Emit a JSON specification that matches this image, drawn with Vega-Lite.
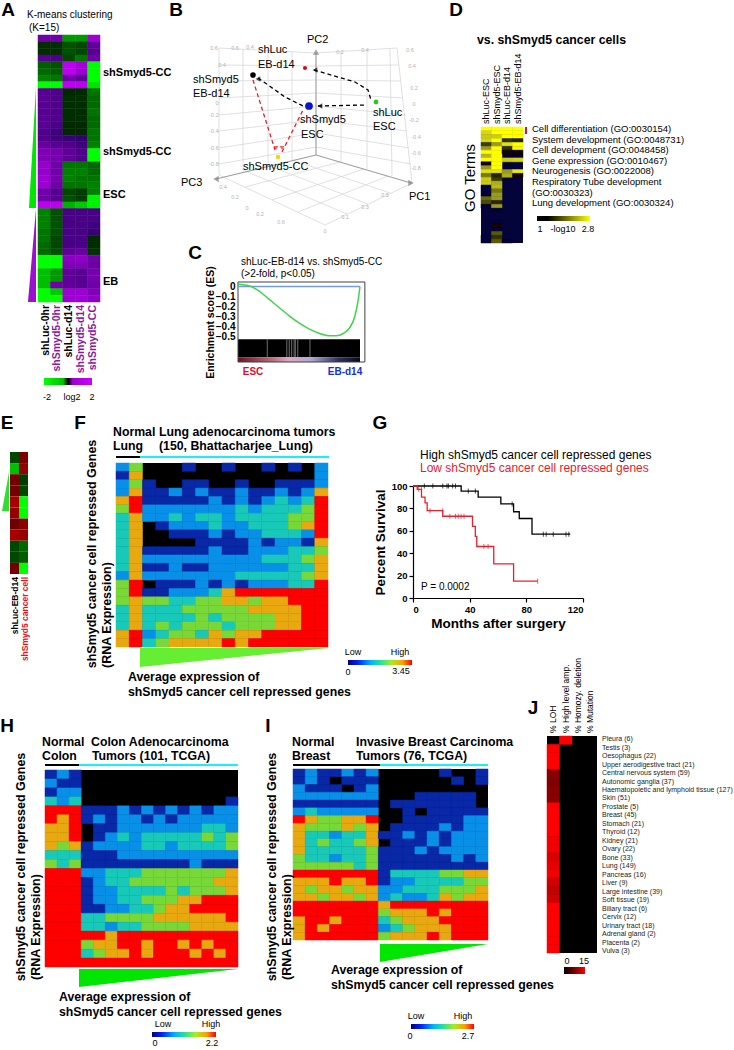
{"$schema":"https://vega.github.io/schema/vega-lite/v6.json","width":734,"height":1050,"padding":0,"autosize":{"type":"none"},"background":"white",
"config":{"font":"Liberation Sans","view":{"stroke":null}},
"resolve":{"scale":{"x":"independent","y":"independent","color":"independent","stroke":"independent"},"axis":{"x":"independent","y":"independent"}},
"encoding":{"x":{"field":"x","type":"quantitative","axis":null,"scale":{"domain":[0,734]}},"y":{"field":"y","type":"quantitative","axis":null,"scale":{"domain":[1050,0]}}},
"layer":[
{"data":{"values":[{"x":219,"y":48,"x2":316,"y2":53},{"x":219,"y":65,"x2":316,"y2":66},{"x":219,"y":81,"x2":316,"y2":80},{"x":219,"y":98,"x2":316,"y2":93},{"x":219,"y":115,"x2":316,"y2":106},{"x":219,"y":131,"x2":316,"y2":120},{"x":219,"y":148,"x2":316,"y2":133},{"x":219,"y":164,"x2":316,"y2":147},{"x":219,"y":48,"x2":219,"y2":175},{"x":243,"y":49,"x2":243,"y2":170},{"x":268,"y":50,"x2":268,"y2":165},{"x":292,"y":52,"x2":292,"y2":160},{"x":316,"y":53,"x2":397,"y2":48},{"x":316,"y":66,"x2":399,"y2":65},{"x":316,"y":80,"x2":401,"y2":81},{"x":316,"y":93,"x2":403,"y2":98},{"x":316,"y":106,"x2":405,"y2":115},{"x":316,"y":120,"x2":407,"y2":131},{"x":316,"y":133,"x2":409,"y2":148},{"x":316,"y":147,"x2":411,"y2":164},{"x":341,"y":51,"x2":341,"y2":162},{"x":367,"y":50,"x2":367,"y2":169},{"x":390,"y":49,"x2":392,"y2":176},{"x":397,"y":48,"x2":412,"y2":183},{"x":243,"y":170,"x2":347,"y2":214},{"x":267,"y":165,"x2":368,"y2":204},{"x":292,"y":160,"x2":390,"y2":193},{"x":245,"y":187,"x2":340,"y2":162},{"x":272,"y":200,"x2":364,"y2":169},{"x":298,"y":212,"x2":388,"y2":176},{"x":219,"y":175,"x2":325,"y2":225},{"x":325,"y":225,"x2":412,"y2":183}]},"mark":{"type":"rule","color":"#d8d8d8","strokeWidth":0.8},"encoding":{"x2":{"field":"x2"},"y2":{"field":"y2"}}},
{"data":{"values":[{"x":316,"y":155,"x2":216,"y2":179},{"x":316,"y":155,"x2":411,"y2":183},{"x":316,"y":155,"x2":316,"y2":53}]},"mark":{"type":"rule","color":"#a0a0a0","strokeWidth":1.2},"encoding":{"x2":{"field":"x2"},"y2":{"field":"y2"}}},
{"data":{"values":[{"x":216,"y":179,"s":"l"},{"x":411,"y":183,"s":"r"},{"x":316,"y":52,"s":"u"}]},"mark":{"type":"point","filled":true,"color":"#808080","size":40},"encoding":{"shape":{"field":"s","legend":null,"scale":{"domain":["l","r","u"],"range":["triangle-left","triangle-right","triangle-up"]}}}},
{"data":{"values":[{"x":214,"y":48,"t":"0.6"},{"x":222,"y":65,"t":"0.4"},{"x":217,"y":103,"t":"0"},{"x":214,"y":115,"t":"-0.2"},{"x":214,"y":131,"t":"-0.4"},{"x":214,"y":148,"t":"-0.6"},{"x":214,"y":164,"t":"-0.8"},{"x":410,"y":50,"t":"0.6"},{"x":412,"y":66,"t":"0.4"},{"x":414,"y":88,"t":"0.2"},{"x":414,"y":104,"t":"0"},{"x":414,"y":120,"t":"-0.2"},{"x":416,"y":137,"t":"-0.4"},{"x":416,"y":153,"t":"-0.6"},{"x":416,"y":168,"t":"-0.8"},{"x":235,"y":48,"t":"0.6"},{"x":250,"y":47,"t":"0.4"},{"x":340,"y":52,"t":"0.2"},{"x":365,"y":50,"t":"0.4"},{"x":223,"y":187,"t":"0.4"},{"x":235,"y":197,"t":"0.2"},{"x":247,"y":208,"t":"0"},{"x":260,"y":214,"t":"0.2"},{"x":281,"y":222,"t":"0.6"},{"x":325,"y":231,"t":"0"},{"x":345,"y":217,"t":"0.1"},{"x":365,"y":207,"t":"0.3"},{"x":385,"y":195,"t":"0.5"}]},"mark":{"type":"text","fontSize":5.5,"color":"#b4b4b4","align":"center","baseline":"middle"},"encoding":{"text":{"field":"t"}}},
{"data":{"values":[{"s":"a","x":366,"y":105},{"s":"a","x":318,"y":106},{"s":"b","x":371,"y":100},{"s":"b","x":368,"y":90},{"s":"b","x":355,"y":82},{"s":"b","x":314,"y":70},{"s":"c","x":303,"y":106},{"s":"c","x":285,"y":97},{"s":"c","x":258,"y":78}]},"mark":{"type":"line","color":"black","strokeWidth":1.3,"strokeDash":[4,3]},"encoding":{"detail":{"field":"s"}}},
{"data":{"values":[{"s":"a","x":253,"y":80},{"s":"a","x":275,"y":150},{"s":"b","x":303,"y":110},{"s":"b","x":282,"y":152}]},"mark":{"type":"line","color":"#e8202c","strokeWidth":1.3,"strokeDash":[4,3]},"encoding":{"detail":{"field":"s"}}},
{"data":{"values":[{"x":320,"y":106},{"x":315,"y":70},{"x":258,"y":79}]},"mark":{"type":"point","filled":true,"color":"black","size":28,"shape":"triangle-left"}},
{"data":{"values":[{"x":276,"y":148},{"x":282,"y":148}]},"mark":{"type":"point","filled":true,"color":"#e8202c","size":24,"shape":"triangle-down"}},
{"data":{"values":[{"x":253,"y":75,"n":"shSmyd5 EB-d14","a":32},{"x":305,"y":68,"n":"shLuc EB-d14","a":18},{"x":309,"y":106,"n":"shSmyd5 ESC","a":60},{"x":376,"y":102,"n":"shLuc ESC","a":24},{"x":278,"y":157,"n":"shSmyd5-CC","a":22}]},"mark":{"type":"point","filled":true,"opacity":1},"encoding":{"color":{"field":"n","legend":null,"scale":{"domain":["shSmyd5 EB-d14","shLuc EB-d14","shSmyd5 ESC","shLuc ESC","shSmyd5-CC"],"range":["#000000","#c81414","#0a14d2","#28c81e","#e6dc0a"]}},"size":{"field":"a","type":"quantitative","legend":null,"scale":{"domain":[0,60],"range":[0,60]}}}},
{"data":{"values":[{"x":116,"x2":328,"y":463,"y2":647},{"x":45,"x2":238,"y":770,"y2":967},{"x":293,"x2":488,"y":769,"y2":940},{"x":547,"x2":597,"y":736,"y2":953},{"x":116,"x2":140,"y":456,"y2":458},{"x":45,"x2":79,"y":764,"y2":766},{"x":293,"x2":380,"y":764,"y2":766}]},"mark":{"type":"rect","color":"black"},"encoding":{"x2":{"field":"x2"},"y2":{"field":"y2"}}},
{"data":{"values":[{"x":481,"x2":523,"y":127,"y2":243}]},"mark":{"type":"rect","color":"#04043a"},"encoding":{"x2":{"field":"x2"},"y2":{"field":"y2"}}},
{"data":{"values":[{"x":140,"x2":329,"y":456,"y2":458},{"x":79,"x2":238,"y":764,"y2":766},{"x":380,"x2":488,"y":764,"y2":766}]},"mark":{"type":"rect","color":"#19f0f0"},"encoding":{"x2":{"field":"x2"},"y2":{"field":"y2"}}},
{"data":{"values":[{"x":525,"x2":527,"y":127,"y2":134}]},"mark":{"type":"rect","color":"#e8101c"},"encoding":{"x2":{"field":"x2"},"y2":{"field":"y2"}}},
{"data":{"values":[{"y":87,"x":36,"x2":36},{"y":208,"x":29,"x2":36}]},"mark":{"type":"area","orient":"horizontal","color":"#00e600"},"encoding":{"x2":{"field":"x2"}}},
{"data":{"values":[{"y":209,"x":36,"x2":36},{"y":302,"x":28,"x2":36}]},"mark":{"type":"area","orient":"horizontal","color":"#9a10d0"},"encoding":{"x2":{"field":"x2"}}},
{"data":{"values":[{"y":472,"x":9,"x2":9},{"y":511,"x":2,"x2":9}]},"mark":{"type":"area","orient":"horizontal","color":"#30e030"},"encoding":{"x2":{"field":"x2"}}},
{"data":{"values":[{"x":140,"y":648,"y2":667},{"x":329,"y":648,"y2":648}]},"mark":{"type":"area","color":"#66ee33"},"encoding":{"y2":{"field":"y2"}}},
{"data":{"values":[{"g":"h","x":79,"y":969,"y2":987},{"g":"h","x":238,"y":969,"y2":969},{"g":"i","x":380,"y":944,"y2":962},{"g":"i","x":488,"y":944,"y2":944}]},"mark":{"type":"area","color":"#00e600"},"encoding":{"y2":{"field":"y2"},"detail":{"field":"g"}}},
{"data":{"values":[{"x":348,"x2":412,"y":660,"y2":665},{"x":152,"x2":216,"y":1032,"y2":1037},{"x":411,"x2":474,"y":1024,"y2":1029}]},"mark":{"type":"rect","color":{"x1":0,"x2":1,"y1":0,"y2":0,"gradient":"linear","stops":[{"offset":0,"color":"#000080"},{"offset":0.15,"color":"#0020ff"},{"offset":0.35,"color":"#00b0ff"},{"offset":0.5,"color":"#20e0a0"},{"offset":0.68,"color":"#a0f020"},{"offset":0.85,"color":"#ffa000"},{"offset":1,"color":"#ff0000"}]}},"encoding":{"x2":{"field":"x2"},"y2":{"field":"y2"}}},
{"data":{"values":[{"x":44,"x2":92,"y":378,"y2":385}]},"mark":{"type":"rect","color":{"x1":0,"x2":1,"y1":0,"y2":0,"gradient":"linear","stops":[{"offset":0,"color":"#00ff00"},{"offset":0.4,"color":"#00c000"},{"offset":0.5,"color":"#000000"},{"offset":0.6,"color":"#a000d0"},{"offset":1,"color":"#cc00ff"}]}},"encoding":{"x2":{"field":"x2"},"y2":{"field":"y2"}}},
{"data":{"values":[{"x":537,"x2":590,"y":216,"y2":221}]},"mark":{"type":"rect","color":{"x1":0,"x2":1,"y1":0,"y2":0,"gradient":"linear","stops":[{"offset":0,"color":"#000000"},{"offset":0.2,"color":"#000000"},{"offset":1,"color":"#ffff00"}]}},"encoding":{"x2":{"field":"x2"},"y2":{"field":"y2"}}},
{"data":{"values":[{"x":564,"x2":585,"y":967,"y2":974}]},"mark":{"type":"rect","color":{"x1":0,"x2":1,"y1":0,"y2":0,"gradient":"linear","stops":[{"offset":0,"color":"#000000"},{"offset":1,"color":"#ff0000"}]}},"encoding":{"x2":{"field":"x2"},"y2":{"field":"y2"}}},
{"data":{"values":[
{"x":0,"y":0,"v":0.8},{"x":1,"y":0,"v":0.8},{"x":2,"y":0,"v":-1.2},{"x":3,"y":0,"v":-1.2},{"x":4,"y":0,"v":1.4},
{"x":0,"y":1,"v":-0.2},{"x":1,"y":1,"v":-0.2},{"x":2,"y":1,"v":-0.6},{"x":3,"y":1,"v":-0.5},{"x":4,"y":1,"v":0.6},
{"x":0,"y":2,"v":-0.2},{"x":1,"y":2,"v":-0.2},{"x":2,"y":2,"v":-0.6},{"x":3,"y":2,"v":-0.5},{"x":4,"y":2,"v":0.5},
{"x":0,"y":3,"v":0.5},{"x":1,"y":3,"v":0.4},{"x":2,"y":3,"v":-0.5},{"x":3,"y":3,"v":-0.9},{"x":4,"y":3,"v":0.8},
{"x":0,"y":4,"v":-0.7},{"x":1,"y":4,"v":-0.6},{"x":2,"y":4,"v":1.8},{"x":3,"y":4,"v":1.5},{"x":4,"y":4,"v":-2},
{"x":0,"y":5,"v":-0.8},{"x":1,"y":5,"v":-0.7},{"x":2,"y":5,"v":1.8},{"x":3,"y":5,"v":1.4},{"x":4,"y":5,"v":-2},
{"x":0,"y":6,"v":-1},{"x":1,"y":6,"v":-0.9},{"x":2,"y":6,"v":0.8},{"x":3,"y":6,"v":0.6},{"x":4,"y":6,"v":-2},
{"x":0,"y":7,"v":-2},{"x":1,"y":7,"v":-2},{"x":2,"y":7,"v":1.8},{"x":3,"y":7,"v":1.8},{"x":4,"y":7,"v":-1.8},
{"x":0,"y":8,"v":0.5},{"x":1,"y":8,"v":0.4},{"x":2,"y":8,"v":-0.1},{"x":3,"y":8,"v":-0.1},{"x":4,"y":8,"v":-0.9},
{"x":0,"y":9,"v":0.5},{"x":1,"y":9,"v":0.4},{"x":2,"y":9,"v":-0.2},{"x":3,"y":9,"v":-0.2},{"x":4,"y":9,"v":-0.8},
{"x":0,"y":10,"v":0.5},{"x":1,"y":10,"v":0.4},{"x":2,"y":10,"v":-0.2},{"x":3,"y":10,"v":-0.2},{"x":4,"y":10,"v":-0.8},
{"x":0,"y":11,"v":0.5},{"x":1,"y":11,"v":0.4},{"x":2,"y":11,"v":-0.2},{"x":3,"y":11,"v":-0.2},{"x":4,"y":11,"v":-0.9},
{"x":0,"y":12,"v":0.5},{"x":1,"y":12,"v":0.4},{"x":2,"y":12,"v":-0.2},{"x":3,"y":12,"v":-0.2},{"x":4,"y":12,"v":-0.8},
{"x":0,"y":13,"v":0.5},{"x":1,"y":13,"v":0.3},{"x":2,"y":13,"v":-0.1},{"x":3,"y":13,"v":-0.1},{"x":4,"y":13,"v":-0.8},
{"x":0,"y":14,"v":0.4},{"x":1,"y":14,"v":0.2},{"x":2,"y":14,"v":-0.1},{"x":3,"y":14,"v":-0.1},{"x":4,"y":14,"v":-0.9},
{"x":0,"y":15,"v":0.4},{"x":1,"y":15,"v":0.2},{"x":2,"y":15,"v":0.1},{"x":3,"y":15,"v":0},{"x":4,"y":15,"v":-0.9},
{"x":0,"y":16,"v":0.7},{"x":1,"y":16,"v":0.5},{"x":2,"y":16,"v":0.4},{"x":3,"y":16,"v":0.2},{"x":4,"y":16,"v":-1},
{"x":0,"y":17,"v":1},{"x":1,"y":17,"v":0.9},{"x":2,"y":17,"v":0.6},{"x":3,"y":17,"v":0.4},{"x":4,"y":17,"v":-2},
{"x":0,"y":18,"v":1},{"x":1,"y":18,"v":0.9},{"x":2,"y":18,"v":0.6},{"x":3,"y":18,"v":0.4},{"x":4,"y":18,"v":-2},
{"x":0,"y":19,"v":1.3},{"x":1,"y":19,"v":0.8},{"x":2,"y":19,"v":-0.9},{"x":3,"y":19,"v":-0.9},{"x":4,"y":19,"v":-0.8},
{"x":0,"y":20,"v":1.3},{"x":1,"y":20,"v":0.8},{"x":2,"y":20,"v":-1},{"x":3,"y":20,"v":-1},{"x":4,"y":20,"v":-0.8},
{"x":0,"y":21,"v":1.4},{"x":1,"y":21,"v":0.9},{"x":2,"y":21,"v":-1},{"x":3,"y":21,"v":-0.9},{"x":4,"y":21,"v":-0.9},
{"x":0,"y":22,"v":1.4},{"x":1,"y":22,"v":0.8},{"x":2,"y":22,"v":-0.9},{"x":3,"y":22,"v":-0.9},{"x":4,"y":22,"v":-1},
{"x":0,"y":23,"v":0.8},{"x":1,"y":23,"v":0.5},{"x":2,"y":23,"v":-0.5},{"x":3,"y":23,"v":-0.4},{"x":4,"y":23,"v":-1},
{"x":0,"y":24,"v":0.8},{"x":1,"y":24,"v":0.5},{"x":2,"y":24,"v":-0.6},{"x":3,"y":24,"v":-0.4},{"x":4,"y":24,"v":-1.9},
{"x":0,"y":25,"v":1.8},{"x":1,"y":25,"v":1.8},{"x":2,"y":25,"v":-1.4},{"x":3,"y":25,"v":-1.6},{"x":4,"y":25,"v":-1.9},
{"x":0,"y":26,"v":-1},{"x":1,"y":26,"v":-0.6},{"x":2,"y":26,"v":0.3},{"x":3,"y":26,"v":0.3},{"x":4,"y":26,"v":0.3},
{"x":0,"y":27,"v":-1},{"x":1,"y":27,"v":-0.6},{"x":2,"y":27,"v":0.3},{"x":3,"y":27,"v":0.3},{"x":4,"y":27,"v":0.3},
{"x":0,"y":28,"v":-1},{"x":1,"y":28,"v":-0.6},{"x":2,"y":28,"v":0.3},{"x":3,"y":28,"v":0.3},{"x":4,"y":28,"v":0.2},
{"x":0,"y":29,"v":-0.9},{"x":1,"y":29,"v":-0.6},{"x":2,"y":29,"v":0.3},{"x":3,"y":29,"v":0.3},{"x":4,"y":29,"v":0.1},
{"x":0,"y":30,"v":-0.9},{"x":1,"y":30,"v":-0.5},{"x":2,"y":30,"v":0.3},{"x":3,"y":30,"v":0.3},{"x":4,"y":30,"v":-0.1},
{"x":0,"y":31,"v":-0.8},{"x":1,"y":31,"v":-0.5},{"x":2,"y":31,"v":0.3},{"x":3,"y":31,"v":0.3},{"x":4,"y":31,"v":-0.2},
{"x":0,"y":32,"v":-0.8},{"x":1,"y":32,"v":-0.6},{"x":2,"y":32,"v":0.6},{"x":3,"y":32,"v":0.7},{"x":4,"y":32,"v":-0.3},
{"x":0,"y":33,"v":-2},{"x":1,"y":33,"v":-2},{"x":2,"y":33,"v":1.2},{"x":3,"y":33,"v":1.2},{"x":4,"y":33,"v":0.8},
{"x":0,"y":34,"v":-2},{"x":1,"y":34,"v":-2},{"x":2,"y":34,"v":1},{"x":3,"y":34,"v":1},{"x":4,"y":34,"v":0.7},
{"x":0,"y":35,"v":-1.5},{"x":1,"y":35,"v":-1.2},{"x":2,"y":35,"v":0.6},{"x":3,"y":35,"v":0.5},{"x":4,"y":35,"v":0.9},
{"x":0,"y":36,"v":-1.5},{"x":1,"y":36,"v":-1.2},{"x":2,"y":36,"v":0.6},{"x":3,"y":36,"v":0.5},{"x":4,"y":36,"v":0.9},
{"x":0,"y":37,"v":-1.5},{"x":1,"y":37,"v":0.8},{"x":2,"y":37,"v":0.6},{"x":3,"y":37,"v":0.5},{"x":4,"y":37,"v":0.8},
{"x":0,"y":38,"v":-2},{"x":1,"y":38,"v":-1.6},{"x":2,"y":38,"v":1.4},{"x":3,"y":38,"v":1.4},{"x":4,"y":38,"v":1},
{"x":0,"y":39,"v":-2},{"x":1,"y":39,"v":-2},{"x":2,"y":39,"v":1.4},{"x":3,"y":39,"v":1.4},{"x":4,"y":39,"v":1.2}
]},"mark":{"type":"rect","strokeWidth":0.5},"encoding":{"x":{"field":"x","type":"ordinal","axis":null,"scale":{"range":[38,100]}},"y":{"field":"y","type":"ordinal","axis":null,"scale":{"range":[35,302]}},"color":{"field":"v","type":"quantitative","legend":null,"scale":{"domain":[-2,0,2],"range":["#00ff00","#000000","#cc00ff"]}},"stroke":{"field":"v","type":"quantitative","legend":null,"scale":{"domain":[-2,0,2],"range":["#00ff00","#000000","#cc00ff"]}}}},
{"data":{"values":[
{"x":0,"y":0,"v":3},{"x":1,"y":0,"v":3},{"x":2,"y":0,"v":3},{"x":3,"y":0,"v":3},
{"x":0,"y":1,"v":2.6},{"x":1,"y":1,"v":3},{"x":2,"y":1,"v":3},{"x":3,"y":1,"v":3},
{"x":0,"y":2,"v":2.5},{"x":1,"y":2,"v":2.5},{"x":2,"y":2,"v":3},{"x":3,"y":2,"v":3},
{"x":0,"y":3,"v":2.6},{"x":1,"y":3,"v":3},{"x":2,"y":3,"v":1.3},{"x":3,"y":3,"v":1.2},
{"x":0,"y":4,"v":1.4},{"x":1,"y":4,"v":2},{"x":2,"y":4,"v":2.7},{"x":3,"y":4,"v":3},
{"x":0,"y":5,"v":2},{"x":1,"y":5,"v":3},{"x":2,"y":5,"v":1.3},{"x":3,"y":5,"v":2.9},
{"x":0,"y":6,"v":3},{"x":1,"y":6,"v":3},{"x":2,"y":6,"v":1},{"x":3,"y":6,"v":1},
{"x":0,"y":7,"v":2.3},{"x":1,"y":7,"v":3},{"x":3,"y":7,"v":0.8},
{"x":0,"y":8,"v":3},{"x":1,"y":8,"v":3},{"x":2,"y":8,"v":2.5},{"x":3,"y":8,"v":2.6},
{"x":0,"y":9,"v":1},{"x":1,"y":9,"v":3},
{"x":0,"y":10,"v":2},{"x":1,"y":10,"v":3},
{"x":0,"y":11,"v":2.7},{"x":1,"y":11,"v":2.7},{"x":2,"y":11,"v":2},{"x":3,"y":11,"v":2.8},
{"x":0,"y":12,"v":1.8},{"x":1,"y":12,"v":1.2},{"x":2,"y":12,"v":2.2},{"x":3,"y":12,"v":1},
{"x":0,"y":13,"v":2.5},{"x":1,"y":13,"v":1.4},
{"x":0,"y":14,"v":2.5},{"x":1,"y":14,"v":2.2},
{"x":0,"y":15,"v":0.6},{"x":1,"y":15,"v":2.3},
{"x":0,"y":16,"v":0.2},{"x":1,"y":16,"v":1.8},
{"x":0,"y":17,"v":0.3},{"x":1,"y":17,"v":2},
{"x":0,"y":18,"v":1.7},{"x":1,"y":18,"v":2},
{"x":0,"y":19,"v":1.5},{"x":1,"y":19,"v":1.2},
{"x":0,"y":20,"v":0.5},{"x":1,"y":20,"v":2},
{"x":1,"y":21,"v":0.3},{"x":1,"y":24,"v":0.2},{"x":1,"y":25,"v":1},{"x":1,"y":26,"v":0.3},{"x":1,"y":27,"v":1.6},
{"x":0,"y":28,"v":0.4},{"x":1,"y":28,"v":1.3},
{"x":0,"y":29,"v":0.5},{"x":1,"y":29,"v":1.6},{"x":2,"y":29,"v":0.3}
]},"mark":{"type":"rect","strokeWidth":0.5},"encoding":{"x":{"field":"x","type":"ordinal","axis":null,"scale":{"domain":[0,1,2,3],"range":[481,523]}},"y":{"field":"y","type":"ordinal","axis":null,"scale":{"domain":[0,1,2,3,4,5,6,7,8,9,10,11,12,13,14,15,16,17,18,19,20,21,22,23,24,25,26,27,28,29],"range":[127,243]}},"color":{"field":"v","type":"quantitative","legend":null,"scale":{"domain":[0,1,2,3],"range":["#04043a","#000000","#9a9a20","#ffff00"]}},"stroke":{"field":"v","type":"quantitative","legend":null,"scale":{"domain":[0,1,2,3],"range":["#04043a","#000000","#9a9a20","#ffff00"]}}}},
{"data":{"values":[
{"x":0,"y":0,"v":-0.5},{"x":1,"y":0,"v":0.5},{"x":0,"y":1,"v":-1.5},{"x":1,"y":1,"v":0.8},{"x":0,"y":2,"v":0.4},{"x":1,"y":2,"v":-0.4},{"x":0,"y":3,"v":0.4},{"x":1,"y":3,"v":-0.5},{"x":0,"y":4,"v":1},{"x":1,"y":4,"v":-2},{"x":0,"y":5,"v":0.8},{"x":1,"y":5,"v":-2},{"x":0,"y":6,"v":0.3},{"x":1,"y":6,"v":0.7},{"x":0,"y":7,"v":1},{"x":1,"y":7,"v":0.8},{"x":0,"y":8,"v":-0.5},{"x":1,"y":8,"v":-0.8},{"x":0,"y":9,"v":-0.5},{"x":1,"y":9,"v":-0.7},{"x":0,"y":10,"v":0.4},{"x":1,"y":10,"v":-2}
]},"mark":"rect","encoding":{"x":{"field":"x","type":"ordinal","axis":null,"scale":{"range":[10,28]}},"y":{"field":"y","type":"ordinal","axis":null,"scale":{"range":[452,574]}},"color":{"field":"v","type":"quantitative","legend":null,"scale":{"domain":[-2,0,2],"range":["#00ff00","#000000","#ff0000"]}}}},
{"data":{"values":[
{"x":0,"y":0,"v":2},{"x":1,"y":0,"v":4},{"x":5,"y":0,"v":1},{"x":8,"y":0,"v":1},{"x":11,"y":0,"v":1},{"x":13,"y":0,"v":1},{"x":15,"y":0,"v":2},
{"x":0,"y":1,"v":1},{"x":1,"y":1,"v":5},{"x":15,"y":1,"v":2},
{"x":0,"y":2,"v":2},{"x":1,"y":2,"v":4},{"x":2,"y":2,"v":1},{"x":5,"y":2,"v":1},{"x":6,"y":2,"v":1},{"x":9,"y":2,"v":1},{"x":12,"y":2,"v":1},{"x":13,"y":2,"v":1},{"x":14,"y":2,"v":1},{"x":15,"y":2,"v":2},
{"x":0,"y":3,"v":2},{"x":1,"y":3,"v":5},{"x":2,"y":3,"v":1},{"x":3,"y":3,"v":1},{"x":4,"y":3,"v":2},{"x":5,"y":3,"v":1},{"x":6,"y":3,"v":2},{"x":7,"y":3,"v":1},{"x":8,"y":3,"v":1},{"x":9,"y":3,"v":2},{"x":10,"y":3,"v":1},{"x":11,"y":3,"v":1},{"x":12,"y":3,"v":2},{"x":13,"y":3,"v":1},{"x":14,"y":3,"v":2},{"x":15,"y":3,"v":5},
{"x":0,"y":4,"v":5},{"x":1,"y":4,"v":6},{"x":2,"y":4,"v":1},{"x":3,"y":4,"v":1},{"x":4,"y":4,"v":1},{"x":5,"y":4,"v":1},{"x":6,"y":4,"v":1},{"x":7,"y":4,"v":2},{"x":8,"y":4,"v":1},{"x":9,"y":4,"v":2},{"x":10,"y":4,"v":1},{"x":11,"y":4,"v":2},{"x":12,"y":4,"v":3},{"x":13,"y":4,"v":2},{"x":14,"y":4,"v":3},{"x":15,"y":4,"v":6},
{"x":0,"y":5,"v":4},{"x":1,"y":5,"v":6},{"x":2,"y":5,"v":2},{"x":3,"y":5,"v":2},{"x":4,"y":5,"v":2},{"x":5,"y":5,"v":2},{"x":6,"y":5,"v":2},{"x":7,"y":5,"v":2},{"x":8,"y":5,"v":2},{"x":9,"y":5,"v":3},{"x":10,"y":5,"v":2},{"x":11,"y":5,"v":3},{"x":12,"y":5,"v":3},{"x":13,"y":5,"v":3},{"x":14,"y":5,"v":4},{"x":15,"y":5,"v":6},
{"x":0,"y":6,"v":3},{"x":1,"y":6,"v":5},{"x":2,"y":6,"v":2},{"x":3,"y":6,"v":2},{"x":4,"y":6,"v":3},{"x":5,"y":6,"v":2},{"x":6,"y":6,"v":3},{"x":7,"y":6,"v":3},{"x":8,"y":6,"v":2},{"x":9,"y":6,"v":3},{"x":10,"y":6,"v":3},{"x":11,"y":6,"v":3},{"x":12,"y":6,"v":3},{"x":13,"y":6,"v":4},{"x":14,"y":6,"v":4},{"x":15,"y":6,"v":6},
{"x":0,"y":7,"v":3},{"x":1,"y":7,"v":5},{"x":3,"y":7,"v":1},{"x":4,"y":7,"v":2},{"x":5,"y":7,"v":2},{"x":6,"y":7,"v":2},{"x":7,"y":7,"v":3},{"x":8,"y":7,"v":2},{"x":9,"y":7,"v":2},{"x":10,"y":7,"v":3},{"x":11,"y":7,"v":3},{"x":12,"y":7,"v":3},{"x":13,"y":7,"v":4},{"x":14,"y":7,"v":5},{"x":15,"y":7,"v":6},
{"x":0,"y":8,"v":3},{"x":1,"y":8,"v":5},{"x":4,"y":8,"v":1},{"x":5,"y":8,"v":1},{"x":6,"y":8,"v":1},{"x":7,"y":8,"v":2},{"x":8,"y":8,"v":1},{"x":9,"y":8,"v":2},{"x":10,"y":8,"v":2},{"x":11,"y":8,"v":3},{"x":12,"y":8,"v":3},{"x":13,"y":8,"v":3},{"x":14,"y":8,"v":2},{"x":15,"y":8,"v":6},
{"x":0,"y":9,"v":3},{"x":1,"y":9,"v":5},{"x":6,"y":9,"v":1},{"x":7,"y":9,"v":1},{"x":8,"y":9,"v":1},{"x":9,"y":9,"v":1},{"x":10,"y":9,"v":2},{"x":11,"y":9,"v":1},{"x":12,"y":9,"v":2},{"x":13,"y":9,"v":2},{"x":14,"y":9,"v":1},{"x":15,"y":9,"v":5},
{"x":0,"y":10,"v":3},{"x":1,"y":10,"v":5},{"x":2,"y":10,"v":1},{"x":3,"y":10,"v":1},{"x":4,"y":10,"v":1},{"x":5,"y":10,"v":1},{"x":6,"y":10,"v":1},{"x":7,"y":10,"v":2},{"x":8,"y":10,"v":1},{"x":9,"y":10,"v":1},{"x":10,"y":10,"v":2},{"x":11,"y":10,"v":2},{"x":12,"y":10,"v":2},{"x":13,"y":10,"v":3},{"x":14,"y":10,"v":3},{"x":15,"y":10,"v":4},
{"x":0,"y":11,"v":3},{"x":1,"y":11,"v":5},{"x":2,"y":11,"v":2},{"x":3,"y":11,"v":2},{"x":4,"y":11,"v":2},{"x":5,"y":11,"v":2},{"x":6,"y":11,"v":2},{"x":7,"y":11,"v":2},{"x":8,"y":11,"v":2},{"x":9,"y":11,"v":2},{"x":10,"y":11,"v":2},{"x":11,"y":11,"v":3},{"x":12,"y":11,"v":3},{"x":13,"y":11,"v":3},{"x":14,"y":11,"v":4},{"x":15,"y":11,"v":5},
{"x":0,"y":12,"v":3},{"x":1,"y":12,"v":5},{"x":2,"y":12,"v":1},{"x":3,"y":12,"v":1},{"x":4,"y":12,"v":2},{"x":5,"y":12,"v":1},{"x":6,"y":12,"v":1},{"x":7,"y":12,"v":2},{"x":8,"y":12,"v":2},{"x":9,"y":12,"v":2},{"x":10,"y":12,"v":2},{"x":11,"y":12,"v":2},{"x":12,"y":12,"v":2},{"x":13,"y":12,"v":3},{"x":14,"y":12,"v":3},{"x":15,"y":12,"v":5},
{"x":0,"y":13,"v":2},{"x":1,"y":13,"v":5},{"x":2,"y":13,"v":2},{"x":3,"y":13,"v":2},{"x":4,"y":13,"v":2},{"x":5,"y":13,"v":2},{"x":6,"y":13,"v":2},{"x":7,"y":13,"v":2},{"x":8,"y":13,"v":2},{"x":9,"y":13,"v":3},{"x":10,"y":13,"v":3},{"x":11,"y":13,"v":3},{"x":12,"y":13,"v":3},{"x":13,"y":13,"v":3},{"x":14,"y":13,"v":4},{"x":15,"y":13,"v":5},
{"x":0,"y":14,"v":4},{"x":1,"y":14,"v":6},{"x":3,"y":14,"v":1},{"x":4,"y":14,"v":1},{"x":5,"y":14,"v":1},{"x":6,"y":14,"v":2},{"x":7,"y":14,"v":1},{"x":8,"y":14,"v":2},{"x":9,"y":14,"v":1},{"x":10,"y":14,"v":2},{"x":11,"y":14,"v":2},{"x":12,"y":14,"v":2},{"x":13,"y":14,"v":3},{"x":14,"y":14,"v":3},{"x":15,"y":14,"v":6},
{"x":0,"y":15,"v":4},{"x":1,"y":15,"v":6},{"x":2,"y":15,"v":1},{"x":3,"y":15,"v":1},{"x":4,"y":15,"v":2},{"x":5,"y":15,"v":2},{"x":6,"y":15,"v":2},{"x":7,"y":15,"v":3},{"x":8,"y":15,"v":5},{"x":9,"y":15,"v":6},{"x":10,"y":15,"v":6},{"x":11,"y":15,"v":6},{"x":12,"y":15,"v":6},{"x":13,"y":15,"v":6},{"x":14,"y":15,"v":6},{"x":15,"y":15,"v":6},
{"x":0,"y":16,"v":4},{"x":1,"y":16,"v":5},{"x":2,"y":16,"v":4},{"x":3,"y":16,"v":4},{"x":4,"y":16,"v":3},{"x":5,"y":16,"v":3},{"x":6,"y":16,"v":4},{"x":7,"y":16,"v":4},{"x":8,"y":16,"v":5},{"x":9,"y":16,"v":5},{"x":10,"y":16,"v":4},{"x":11,"y":16,"v":5},{"x":12,"y":16,"v":5},{"x":13,"y":16,"v":6},{"x":14,"y":16,"v":6},{"x":15,"y":16,"v":6},
{"x":0,"y":17,"v":3},{"x":1,"y":17,"v":5},{"x":2,"y":17,"v":3},{"x":3,"y":17,"v":3},{"x":4,"y":17,"v":3},{"x":5,"y":17,"v":4},{"x":6,"y":17,"v":4},{"x":7,"y":17,"v":4},{"x":8,"y":17,"v":4},{"x":9,"y":17,"v":4},{"x":10,"y":17,"v":5},{"x":11,"y":17,"v":5},{"x":12,"y":17,"v":5},{"x":13,"y":17,"v":5},{"x":14,"y":17,"v":6},{"x":15,"y":17,"v":6},
{"x":0,"y":18,"v":3},{"x":1,"y":18,"v":5},{"x":2,"y":18,"v":3},{"x":3,"y":18,"v":3},{"x":4,"y":18,"v":3},{"x":5,"y":18,"v":3},{"x":6,"y":18,"v":4},{"x":7,"y":18,"v":3},{"x":8,"y":18,"v":4},{"x":9,"y":18,"v":4},{"x":10,"y":18,"v":4},{"x":11,"y":18,"v":4},{"x":12,"y":18,"v":5},{"x":13,"y":18,"v":5},{"x":14,"y":18,"v":6},{"x":15,"y":18,"v":6},
{"x":0,"y":19,"v":3},{"x":1,"y":19,"v":5},{"x":2,"y":19,"v":3},{"x":3,"y":19,"v":4},{"x":4,"y":19,"v":3},{"x":5,"y":19,"v":4},{"x":6,"y":19,"v":4},{"x":7,"y":19,"v":4},{"x":8,"y":19,"v":3},{"x":9,"y":19,"v":4},{"x":10,"y":19,"v":4},{"x":11,"y":19,"v":4},{"x":12,"y":19,"v":5},{"x":13,"y":19,"v":5},{"x":14,"y":19,"v":6},{"x":15,"y":19,"v":6},
{"x":0,"y":20,"v":5},{"x":1,"y":20,"v":6},{"x":2,"y":20,"v":2},{"x":3,"y":20,"v":3},{"x":4,"y":20,"v":4},{"x":5,"y":20,"v":4},{"x":6,"y":20,"v":3},{"x":7,"y":20,"v":5},{"x":8,"y":20,"v":4},{"x":9,"y":20,"v":5},{"x":10,"y":20,"v":5},{"x":11,"y":20,"v":6},{"x":12,"y":20,"v":6},{"x":13,"y":20,"v":6},{"x":14,"y":20,"v":6},{"x":15,"y":20,"v":6},
{"x":0,"y":21,"v":5},{"x":1,"y":21,"v":6},{"x":2,"y":21,"v":3},{"x":3,"y":21,"v":4},{"x":4,"y":21,"v":5},{"x":5,"y":21,"v":5},{"x":6,"y":21,"v":5},{"x":7,"y":21,"v":5},{"x":8,"y":21,"v":6},{"x":9,"y":21,"v":5},{"x":10,"y":21,"v":6},{"x":11,"y":21,"v":6},{"x":12,"y":21,"v":6},{"x":13,"y":21,"v":6},{"x":14,"y":21,"v":6},{"x":15,"y":21,"v":6}
]},"mark":{"type":"rect","strokeWidth":0.5},"encoding":{"x":{"field":"x","type":"ordinal","axis":null,"scale":{"domain":[0,1,2,3,4,5,6,7,8,9,10,11,12,13,14,15],"range":[116,328]}},"y":{"field":"y","type":"ordinal","axis":null,"scale":{"domain":[0,1,2,3,4,5,6,7,8,9,10,11,12,13,14,15,16,17,18,19,20,21],"range":[463,647]}},"color":{"field":"v","type":"ordinal","legend":null,"scale":{"domain":[0,1,2,3,4,5,6],"range":["#000000","#0828a8","#0890e8","#18c8b8","#78d838","#e8a810","#ff0000"]}},"stroke":{"field":"v","type":"ordinal","legend":null,"scale":{"domain":[0,1,2,3,4,5,6],"range":["#000000","#0828a8","#0890e8","#18c8b8","#78d838","#e8a810","#ff0000"]}}}},
{"data":{"values":[
{"x":0,"y":0,"v":1},{"x":1,"y":0,"v":2},{"x":2,"y":0,"v":1},{"x":0,"y":1,"v":2},{"x":1,"y":1,"v":1},{"x":2,"y":1,"v":1},{"x":0,"y":2,"v":1},{"x":1,"y":2,"v":2},{"x":2,"y":2,"v":2},{"x":0,"y":3,"v":3},{"x":1,"y":3,"v":2},{"x":2,"y":3,"v":3},{"x":15,"y":3,"v":1},
{"x":0,"y":4,"v":6},{"x":1,"y":4,"v":6},{"x":2,"y":4,"v":6},{"x":3,"y":4,"v":1},{"x":4,"y":4,"v":1},{"x":5,"y":4,"v":1},{"x":6,"y":4,"v":2},{"x":7,"y":4,"v":1},{"x":8,"y":4,"v":2},{"x":9,"y":4,"v":1},{"x":10,"y":4,"v":2},{"x":11,"y":4,"v":1},{"x":12,"y":4,"v":2},{"x":13,"y":4,"v":1},{"x":14,"y":4,"v":2},{"x":15,"y":4,"v":2},
{"x":0,"y":5,"v":6},{"x":1,"y":5,"v":5},{"x":2,"y":5,"v":6},{"x":3,"y":5,"v":1},{"x":4,"y":5,"v":2},{"x":5,"y":5,"v":1},{"x":6,"y":5,"v":2},{"x":7,"y":5,"v":2},{"x":8,"y":5,"v":1},{"x":9,"y":5,"v":2},{"x":10,"y":5,"v":1},{"x":11,"y":5,"v":2},{"x":12,"y":5,"v":2},{"x":13,"y":5,"v":2},{"x":14,"y":5,"v":2},{"x":15,"y":5,"v":2},
{"x":0,"y":6,"v":5},{"x":1,"y":6,"v":5},{"x":2,"y":6,"v":6},{"x":4,"y":6,"v":1},{"x":5,"y":6,"v":1},{"x":6,"y":6,"v":2},{"x":7,"y":6,"v":2},{"x":8,"y":6,"v":2},{"x":9,"y":6,"v":2},{"x":10,"y":6,"v":2},{"x":11,"y":6,"v":2},{"x":12,"y":6,"v":2},{"x":13,"y":6,"v":3},{"x":14,"y":6,"v":3},{"x":15,"y":6,"v":2},
{"x":0,"y":7,"v":5},{"x":1,"y":7,"v":5},{"x":2,"y":7,"v":6},{"x":4,"y":7,"v":1},{"x":5,"y":7,"v":2},{"x":6,"y":7,"v":3},{"x":7,"y":7,"v":2},{"x":8,"y":7,"v":3},{"x":9,"y":7,"v":3},{"x":10,"y":7,"v":3},{"x":11,"y":7,"v":3},{"x":12,"y":7,"v":3},{"x":13,"y":7,"v":4},{"x":14,"y":7,"v":3},{"x":15,"y":7,"v":4},
{"x":0,"y":8,"v":5},{"x":1,"y":8,"v":4},{"x":2,"y":8,"v":5},{"x":3,"y":8,"v":1},{"x":4,"y":8,"v":2},{"x":5,"y":8,"v":2},{"x":6,"y":8,"v":2},{"x":7,"y":8,"v":2},{"x":8,"y":8,"v":3},{"x":9,"y":8,"v":3},{"x":10,"y":8,"v":2},{"x":11,"y":8,"v":3},{"x":12,"y":8,"v":3},{"x":13,"y":8,"v":3},{"x":14,"y":8,"v":3},{"x":15,"y":8,"v":4},
{"x":0,"y":9,"v":3},{"x":1,"y":9,"v":3},{"x":2,"y":9,"v":3},{"x":3,"y":9,"v":1},{"x":4,"y":9,"v":1},{"x":5,"y":9,"v":1},{"x":6,"y":9,"v":2},{"x":7,"y":9,"v":2},{"x":8,"y":9,"v":2},{"x":9,"y":9,"v":2},{"x":10,"y":9,"v":2},{"x":11,"y":9,"v":2},{"x":12,"y":9,"v":2},{"x":13,"y":9,"v":2},{"x":14,"y":9,"v":2},{"x":15,"y":9,"v":2},
{"x":0,"y":10,"v":4},{"x":1,"y":10,"v":3},{"x":2,"y":10,"v":4},{"x":3,"y":10,"v":1},{"x":4,"y":10,"v":1},{"x":5,"y":10,"v":1},{"x":6,"y":10,"v":1},{"x":7,"y":10,"v":1},{"x":8,"y":10,"v":1},{"x":9,"y":10,"v":1},{"x":10,"y":10,"v":1},{"x":11,"y":10,"v":1},{"x":12,"y":10,"v":2},{"x":13,"y":10,"v":1},{"x":14,"y":10,"v":1},{"x":15,"y":10,"v":1},
{"x":0,"y":11,"v":6},{"x":1,"y":11,"v":6},{"x":2,"y":11,"v":6},{"x":3,"y":11,"v":2},{"x":4,"y":11,"v":2},{"x":5,"y":11,"v":3},{"x":6,"y":11,"v":3},{"x":7,"y":11,"v":3},{"x":8,"y":11,"v":4},{"x":9,"y":11,"v":4},{"x":10,"y":11,"v":4},{"x":11,"y":11,"v":4},{"x":12,"y":11,"v":4},{"x":13,"y":11,"v":4},{"x":14,"y":11,"v":4},{"x":15,"y":11,"v":5},
{"x":0,"y":12,"v":6},{"x":1,"y":12,"v":6},{"x":2,"y":12,"v":6},{"x":3,"y":12,"v":1},{"x":4,"y":12,"v":2},{"x":5,"y":12,"v":3},{"x":6,"y":12,"v":3},{"x":7,"y":12,"v":4},{"x":8,"y":12,"v":4},{"x":9,"y":12,"v":4},{"x":10,"y":12,"v":4},{"x":11,"y":12,"v":4},{"x":12,"y":12,"v":4},{"x":13,"y":12,"v":4},{"x":14,"y":12,"v":5},{"x":15,"y":12,"v":5},
{"x":0,"y":13,"v":6},{"x":1,"y":13,"v":6},{"x":2,"y":13,"v":6},{"x":3,"y":13,"v":1},{"x":4,"y":13,"v":2},{"x":5,"y":13,"v":2},{"x":6,"y":13,"v":3},{"x":7,"y":13,"v":3},{"x":8,"y":13,"v":3},{"x":9,"y":13,"v":3},{"x":10,"y":13,"v":4},{"x":11,"y":13,"v":3},{"x":12,"y":13,"v":4},{"x":13,"y":13,"v":4},{"x":14,"y":13,"v":4},{"x":15,"y":13,"v":5},
{"x":0,"y":14,"v":6},{"x":1,"y":14,"v":6},{"x":2,"y":14,"v":6},{"x":3,"y":14,"v":1},{"x":4,"y":14,"v":2},{"x":5,"y":14,"v":2},{"x":6,"y":14,"v":3},{"x":7,"y":14,"v":3},{"x":8,"y":14,"v":4},{"x":9,"y":14,"v":4},{"x":10,"y":14,"v":4},{"x":11,"y":14,"v":5},{"x":12,"y":14,"v":5},{"x":13,"y":14,"v":6},{"x":14,"y":14,"v":6},{"x":15,"y":14,"v":6},
{"x":0,"y":15,"v":6},{"x":1,"y":15,"v":6},{"x":2,"y":15,"v":6},{"x":3,"y":15,"v":1},{"x":4,"y":15,"v":1},{"x":5,"y":15,"v":2},{"x":6,"y":15,"v":2},{"x":7,"y":15,"v":3},{"x":8,"y":15,"v":3},{"x":9,"y":15,"v":4},{"x":10,"y":15,"v":5},{"x":11,"y":15,"v":5},{"x":12,"y":15,"v":6},{"x":13,"y":15,"v":6},{"x":14,"y":15,"v":6},{"x":15,"y":15,"v":6},
{"x":0,"y":16,"v":6},{"x":1,"y":16,"v":6},{"x":2,"y":16,"v":6},{"x":3,"y":16,"v":3},{"x":4,"y":16,"v":3},{"x":5,"y":16,"v":4},{"x":6,"y":16,"v":4},{"x":7,"y":16,"v":4},{"x":8,"y":16,"v":4},{"x":9,"y":16,"v":5},{"x":10,"y":16,"v":5},{"x":11,"y":16,"v":5},{"x":12,"y":16,"v":5},{"x":13,"y":16,"v":5},{"x":14,"y":16,"v":5},{"x":15,"y":16,"v":6},
{"x":0,"y":17,"v":6},{"x":1,"y":17,"v":6},{"x":2,"y":17,"v":6},{"x":3,"y":17,"v":3},{"x":4,"y":17,"v":3},{"x":5,"y":17,"v":2},{"x":6,"y":17,"v":3},{"x":7,"y":17,"v":3},{"x":8,"y":17,"v":4},{"x":9,"y":17,"v":4},{"x":10,"y":17,"v":4},{"x":11,"y":17,"v":4},{"x":12,"y":17,"v":5},{"x":13,"y":17,"v":5},{"x":14,"y":17,"v":5},{"x":15,"y":17,"v":5},
{"x":0,"y":18,"v":6},{"x":1,"y":18,"v":6},{"x":2,"y":18,"v":6},{"x":3,"y":18,"v":6},{"x":4,"y":18,"v":6},{"x":5,"y":18,"v":5},{"x":6,"y":18,"v":6},{"x":7,"y":18,"v":6},{"x":8,"y":18,"v":6},{"x":9,"y":18,"v":6},{"x":10,"y":18,"v":6},{"x":11,"y":18,"v":6},{"x":12,"y":18,"v":6},{"x":13,"y":18,"v":6},{"x":14,"y":18,"v":6},{"x":15,"y":18,"v":6},
{"x":0,"y":19,"v":6},{"x":1,"y":19,"v":6},{"x":2,"y":19,"v":6},{"x":3,"y":19,"v":4},{"x":4,"y":19,"v":5},{"x":5,"y":19,"v":5},{"x":6,"y":19,"v":6},{"x":7,"y":19,"v":6},{"x":8,"y":19,"v":5},{"x":9,"y":19,"v":6},{"x":10,"y":19,"v":6},{"x":11,"y":19,"v":5},{"x":12,"y":19,"v":6},{"x":13,"y":19,"v":5},{"x":14,"y":19,"v":6},{"x":15,"y":19,"v":6},
{"x":0,"y":20,"v":6},{"x":1,"y":20,"v":6},{"x":2,"y":20,"v":6},{"x":3,"y":20,"v":3},{"x":4,"y":20,"v":4},{"x":5,"y":20,"v":5},{"x":6,"y":20,"v":5},{"x":7,"y":20,"v":6},{"x":8,"y":20,"v":5},{"x":9,"y":20,"v":6},{"x":10,"y":20,"v":6},{"x":11,"y":20,"v":6},{"x":12,"y":20,"v":5},{"x":13,"y":20,"v":6},{"x":14,"y":20,"v":5},{"x":15,"y":20,"v":6},
{"x":0,"y":21,"v":6},{"x":1,"y":21,"v":6},{"x":2,"y":21,"v":6},{"x":3,"y":21,"v":6},{"x":4,"y":21,"v":6},{"x":5,"y":21,"v":6},{"x":6,"y":21,"v":6},{"x":7,"y":21,"v":6},{"x":8,"y":21,"v":6},{"x":9,"y":21,"v":6},{"x":10,"y":21,"v":6},{"x":11,"y":21,"v":6},{"x":12,"y":21,"v":6},{"x":13,"y":21,"v":6},{"x":14,"y":21,"v":6},{"x":15,"y":21,"v":6}
]},"mark":{"type":"rect","strokeWidth":0.5},"encoding":{"x":{"field":"x","type":"ordinal","axis":null,"scale":{"domain":[0,1,2,3,4,5,6,7,8,9,10,11,12,13,14,15],"range":[45,238]}},"y":{"field":"y","type":"ordinal","axis":null,"scale":{"domain":[0,1,2,3,4,5,6,7,8,9,10,11,12,13,14,15,16,17,18,19,20,21],"range":[770,967]}},"color":{"field":"v","type":"ordinal","legend":null,"scale":{"domain":[0,1,2,3,4,5,6],"range":["#000000","#0828a8","#0890e8","#18c8b8","#78d838","#e8a810","#ff0000"]}},"stroke":{"field":"v","type":"ordinal","legend":null,"scale":{"domain":[0,1,2,3,4,5,6],"range":["#000000","#0828a8","#0890e8","#18c8b8","#78d838","#e8a810","#ff0000"]}}}},
{"data":{"values":[
{"x":0,"y":0,"v":1},{"x":1,"y":0,"v":2},{"x":2,"y":0,"v":1},{"x":3,"y":0,"v":1},{"x":4,"y":0,"v":2},{"x":5,"y":0,"v":1},{"x":6,"y":0,"v":2},{"x":12,"y":0,"v":1},{"x":15,"y":0,"v":1},
{"x":0,"y":1,"v":1},{"x":1,"y":1,"v":2},{"x":2,"y":1,"v":1},{"x":4,"y":1,"v":1},{"x":5,"y":1,"v":1},{"x":6,"y":1,"v":1},{"x":13,"y":1,"v":1},{"x":15,"y":1,"v":1},
{"x":0,"y":2,"v":2},{"x":1,"y":2,"v":1},{"x":2,"y":2,"v":1},{"x":3,"y":2,"v":1},{"x":5,"y":2,"v":1},{"x":6,"y":2,"v":2},
{"x":0,"y":3,"v":2},{"x":1,"y":3,"v":2},{"x":2,"y":3,"v":2},{"x":3,"y":3,"v":2},{"x":4,"y":3,"v":2},{"x":5,"y":3,"v":2},{"x":6,"y":3,"v":2},{"x":10,"y":3,"v":1},{"x":11,"y":3,"v":1},{"x":12,"y":3,"v":1},{"x":13,"y":3,"v":1},{"x":14,"y":3,"v":1},
{"x":0,"y":4,"v":1},{"x":1,"y":4,"v":1},{"x":2,"y":4,"v":1},{"x":3,"y":4,"v":1},{"x":4,"y":4,"v":1},{"x":5,"y":4,"v":1},{"x":6,"y":4,"v":1},{"x":8,"y":4,"v":1},{"x":9,"y":4,"v":1},{"x":10,"y":4,"v":1},{"x":11,"y":4,"v":1},{"x":12,"y":4,"v":1},{"x":13,"y":4,"v":1},{"x":14,"y":4,"v":1},
{"x":0,"y":5,"v":2},{"x":1,"y":5,"v":3},{"x":2,"y":5,"v":2},{"x":3,"y":5,"v":2},{"x":4,"y":5,"v":2},{"x":5,"y":5,"v":2},{"x":6,"y":5,"v":2},{"x":9,"y":5,"v":1},{"x":11,"y":5,"v":1},{"x":12,"y":5,"v":1},{"x":13,"y":5,"v":1},{"x":14,"y":5,"v":1},{"x":15,"y":5,"v":1},
{"x":0,"y":6,"v":6},{"x":1,"y":6,"v":5},{"x":2,"y":6,"v":4},{"x":3,"y":6,"v":4},{"x":4,"y":6,"v":5},{"x":5,"y":6,"v":5},{"x":6,"y":6,"v":6},{"x":9,"y":6,"v":1},{"x":10,"y":6,"v":1},{"x":11,"y":6,"v":1},{"x":12,"y":6,"v":1},{"x":13,"y":6,"v":1},{"x":14,"y":6,"v":2},{"x":15,"y":6,"v":2},
{"x":0,"y":7,"v":5},{"x":1,"y":7,"v":4},{"x":2,"y":7,"v":4},{"x":3,"y":7,"v":4},{"x":4,"y":7,"v":5},{"x":5,"y":7,"v":4},{"x":6,"y":7,"v":5},{"x":8,"y":7,"v":1},{"x":9,"y":7,"v":1},{"x":10,"y":7,"v":1},{"x":11,"y":7,"v":1},{"x":12,"y":7,"v":2},{"x":13,"y":7,"v":1},{"x":14,"y":7,"v":2},{"x":15,"y":7,"v":2},
{"x":0,"y":8,"v":5},{"x":1,"y":8,"v":3},{"x":2,"y":8,"v":3},{"x":3,"y":8,"v":2},{"x":4,"y":8,"v":3},{"x":5,"y":8,"v":3},{"x":6,"y":8,"v":5},{"x":7,"y":8,"v":1},{"x":8,"y":8,"v":1},{"x":9,"y":8,"v":2},{"x":10,"y":8,"v":1},{"x":11,"y":8,"v":2},{"x":12,"y":8,"v":1},{"x":13,"y":8,"v":2},{"x":14,"y":8,"v":2},{"x":15,"y":8,"v":2},
{"x":0,"y":9,"v":5},{"x":1,"y":9,"v":3},{"x":2,"y":9,"v":4},{"x":3,"y":9,"v":3},{"x":4,"y":9,"v":3},{"x":5,"y":9,"v":4},{"x":6,"y":9,"v":5},{"x":8,"y":9,"v":1},{"x":9,"y":9,"v":1},{"x":10,"y":9,"v":1},{"x":11,"y":9,"v":2},{"x":12,"y":9,"v":1},{"x":13,"y":9,"v":2},{"x":14,"y":9,"v":2},{"x":15,"y":9,"v":2},
{"x":0,"y":10,"v":5},{"x":1,"y":10,"v":3},{"x":2,"y":10,"v":3},{"x":3,"y":10,"v":3},{"x":4,"y":10,"v":3},{"x":5,"y":10,"v":3},{"x":6,"y":10,"v":4},{"x":7,"y":10,"v":1},{"x":8,"y":10,"v":1},{"x":9,"y":10,"v":1},{"x":10,"y":10,"v":2},{"x":11,"y":10,"v":1},{"x":12,"y":10,"v":2},{"x":13,"y":10,"v":2},{"x":14,"y":10,"v":2},{"x":15,"y":10,"v":2},
{"x":0,"y":11,"v":4},{"x":1,"y":11,"v":3},{"x":2,"y":11,"v":3},{"x":3,"y":11,"v":2},{"x":4,"y":11,"v":3},{"x":5,"y":11,"v":3},{"x":6,"y":11,"v":4},{"x":7,"y":11,"v":1},{"x":8,"y":11,"v":1},{"x":9,"y":11,"v":1},{"x":10,"y":11,"v":1},{"x":11,"y":11,"v":1},{"x":12,"y":11,"v":1},{"x":13,"y":11,"v":2},{"x":14,"y":11,"v":1},{"x":15,"y":11,"v":2},
{"x":0,"y":12,"v":4},{"x":1,"y":12,"v":4},{"x":2,"y":12,"v":4},{"x":3,"y":12,"v":4},{"x":4,"y":12,"v":4},{"x":5,"y":12,"v":3},{"x":6,"y":12,"v":4},{"x":7,"y":12,"v":1},{"x":8,"y":12,"v":1},{"x":9,"y":12,"v":1},{"x":10,"y":12,"v":1},{"x":11,"y":12,"v":1},{"x":12,"y":12,"v":1},{"x":13,"y":12,"v":1},{"x":14,"y":12,"v":1},{"x":15,"y":12,"v":1},
{"x":0,"y":13,"v":6},{"x":1,"y":13,"v":6},{"x":2,"y":13,"v":6},{"x":3,"y":13,"v":6},{"x":4,"y":13,"v":6},{"x":5,"y":13,"v":6},{"x":6,"y":13,"v":6},{"x":7,"y":13,"v":1},{"x":8,"y":13,"v":3},{"x":9,"y":13,"v":3},{"x":10,"y":13,"v":3},{"x":11,"y":13,"v":3},{"x":12,"y":13,"v":4},{"x":13,"y":13,"v":4},{"x":14,"y":13,"v":5},{"x":15,"y":13,"v":5},
{"x":0,"y":14,"v":5},{"x":1,"y":14,"v":5},{"x":2,"y":14,"v":5},{"x":3,"y":14,"v":6},{"x":4,"y":14,"v":5},{"x":5,"y":14,"v":5},{"x":6,"y":14,"v":6},{"x":7,"y":14,"v":1},{"x":8,"y":14,"v":2},{"x":9,"y":14,"v":2},{"x":10,"y":14,"v":3},{"x":11,"y":14,"v":3},{"x":12,"y":14,"v":3},{"x":13,"y":14,"v":3},{"x":14,"y":14,"v":4},{"x":15,"y":14,"v":4},
{"x":0,"y":15,"v":5},{"x":1,"y":15,"v":4},{"x":2,"y":15,"v":5},{"x":3,"y":15,"v":5},{"x":4,"y":15,"v":4},{"x":5,"y":15,"v":5},{"x":6,"y":15,"v":5},{"x":7,"y":15,"v":2},{"x":8,"y":15,"v":2},{"x":9,"y":15,"v":3},{"x":10,"y":15,"v":3},{"x":11,"y":15,"v":3},{"x":12,"y":15,"v":4},{"x":13,"y":15,"v":4},{"x":14,"y":15,"v":4},{"x":15,"y":15,"v":5},
{"x":0,"y":16,"v":5},{"x":1,"y":16,"v":5},{"x":2,"y":16,"v":4},{"x":3,"y":16,"v":5},{"x":4,"y":16,"v":5},{"x":5,"y":16,"v":4},{"x":6,"y":16,"v":5},{"x":7,"y":16,"v":2},{"x":8,"y":16,"v":3},{"x":9,"y":16,"v":2},{"x":10,"y":16,"v":2},{"x":11,"y":16,"v":3},{"x":12,"y":16,"v":5},{"x":13,"y":16,"v":4},{"x":14,"y":16,"v":5},{"x":15,"y":16,"v":5},
{"x":0,"y":17,"v":6},{"x":1,"y":17,"v":6},{"x":2,"y":17,"v":6},{"x":3,"y":17,"v":6},{"x":4,"y":17,"v":6},{"x":5,"y":17,"v":6},{"x":6,"y":17,"v":6},{"x":7,"y":17,"v":5},{"x":8,"y":17,"v":6},{"x":9,"y":17,"v":6},{"x":10,"y":17,"v":6},{"x":11,"y":17,"v":6},{"x":12,"y":17,"v":6},{"x":13,"y":17,"v":6},{"x":14,"y":17,"v":6},{"x":15,"y":17,"v":6},
{"x":0,"y":18,"v":6},{"x":1,"y":18,"v":6},{"x":2,"y":18,"v":6},{"x":3,"y":18,"v":6},{"x":4,"y":18,"v":6},{"x":5,"y":18,"v":6},{"x":6,"y":18,"v":6},{"x":7,"y":18,"v":4},{"x":8,"y":18,"v":5},{"x":9,"y":18,"v":5},{"x":10,"y":18,"v":5},{"x":11,"y":18,"v":6},{"x":12,"y":18,"v":5},{"x":13,"y":18,"v":6},{"x":14,"y":18,"v":6},{"x":15,"y":18,"v":6},
{"x":0,"y":19,"v":5},{"x":1,"y":19,"v":6},{"x":2,"y":19,"v":6},{"x":3,"y":19,"v":5},{"x":4,"y":19,"v":6},{"x":5,"y":19,"v":6},{"x":6,"y":19,"v":6},{"x":7,"y":19,"v":3},{"x":8,"y":19,"v":4},{"x":9,"y":19,"v":5},{"x":10,"y":19,"v":5},{"x":11,"y":19,"v":5},{"x":12,"y":19,"v":6},{"x":13,"y":19,"v":6},{"x":14,"y":19,"v":6},{"x":15,"y":19,"v":6},
{"x":0,"y":20,"v":5},{"x":1,"y":20,"v":6},{"x":2,"y":20,"v":5},{"x":3,"y":20,"v":6},{"x":4,"y":20,"v":6},{"x":5,"y":20,"v":6},{"x":6,"y":20,"v":6},{"x":7,"y":20,"v":2},{"x":8,"y":20,"v":3},{"x":9,"y":20,"v":4},{"x":10,"y":20,"v":5},{"x":11,"y":20,"v":5},{"x":12,"y":20,"v":5},{"x":13,"y":20,"v":6},{"x":14,"y":20,"v":6},{"x":15,"y":20,"v":6},
{"x":0,"y":21,"v":5},{"x":1,"y":21,"v":6},{"x":2,"y":21,"v":6},{"x":3,"y":21,"v":6},{"x":4,"y":21,"v":6},{"x":5,"y":21,"v":6},{"x":6,"y":21,"v":6},{"x":7,"y":21,"v":4},{"x":8,"y":21,"v":5},{"x":9,"y":21,"v":5},{"x":10,"y":21,"v":5},{"x":11,"y":21,"v":6},{"x":12,"y":21,"v":5},{"x":13,"y":21,"v":6},{"x":14,"y":21,"v":6},{"x":15,"y":21,"v":6}
]},"mark":{"type":"rect","strokeWidth":0.5},"encoding":{"x":{"field":"x","type":"ordinal","axis":null,"scale":{"domain":[0,1,2,3,4,5,6,7,8,9,10,11,12,13,14,15],"range":[293,488]}},"y":{"field":"y","type":"ordinal","axis":null,"scale":{"domain":[0,1,2,3,4,5,6,7,8,9,10,11,12,13,14,15,16,17,18,19,20,21],"range":[769,940]}},"color":{"field":"v","type":"ordinal","legend":null,"scale":{"domain":[0,1,2,3,4,5,6],"range":["#000000","#0828a8","#0890e8","#18c8b8","#78d838","#e8a810","#ff0000"]}},"stroke":{"field":"v","type":"ordinal","legend":null,"scale":{"domain":[0,1,2,3,4,5,6],"range":["#000000","#0828a8","#0890e8","#18c8b8","#78d838","#e8a810","#ff0000"]}}}},
{"data":{"values":[{"x":1,"y":0,"v":15},{"x":0,"y":1,"v":15},{"x":0,"y":2,"v":15},{"x":0,"y":3,"v":15},{"x":0,"y":4,"v":5},{"x":0,"y":5,"v":4},{"x":0,"y":6,"v":5},{"x":0,"y":7,"v":5},{"x":0,"y":8,"v":15},{"x":0,"y":9,"v":15},{"x":0,"y":10,"v":15},{"x":0,"y":11,"v":15},{"x":0,"y":12,"v":14},{"x":0,"y":13,"v":14},{"x":0,"y":14,"v":12},{"x":0,"y":15,"v":13},{"x":0,"y":16,"v":14},{"x":0,"y":17,"v":11},{"x":0,"y":18,"v":10},{"x":0,"y":19,"v":11},{"x":0,"y":20,"v":15},{"x":0,"y":21,"v":15},{"x":0,"y":22,"v":15},{"x":0,"y":23,"v":15},{"x":0,"y":24,"v":15},{"x":0,"y":25,"v":15}]},"mark":{"type":"rect","strokeWidth":0.5},"encoding":{"x":{"field":"x","type":"ordinal","axis":null,"scale":{"domain":[0,1,2,3],"range":[547,597]}},"y":{"field":"y","type":"ordinal","axis":null,"scale":{"domain":[0,1,2,3,4,5,6,7,8,9,10,11,12,13,14,15,16,17,18,19,20,21,22,23,24,25],"range":[736,953]}},"color":{"field":"v","type":"quantitative","legend":null,"scale":{"domain":[0,15],"range":["#000000","#ff0000"]}},"stroke":{"field":"v","type":"quantitative","legend":null,"scale":{"domain":[0,15],"range":["#000000","#ff0000"]}}}},
{"data":{"values":[{"r":0,"r2":1,"e":-0.527,"e2":-0.707}]},"mark":{"type":"rect","color":"black"},"encoding":{"x":{"field":"r","type":"quantitative","axis":null,"scale":{"domain":[0,1],"range":[238,360]}},"x2":{"field":"r2"},"y":{"field":"e","type":"quantitative","axis":null,"scale":{"domain":[-0.755,0.045],"range":[362,282]}},"y2":{"field":"e2"}}},
{"data":{"values":[{"r":0,"r2":1,"e":-0.707,"e2":-0.755}]},"mark":{"type":"rect","color":{"x1":0,"x2":1,"y1":0,"y2":0,"gradient":"linear","stops":[{"offset":0,"color":"#701020"},{"offset":0.25,"color":"#b06070"},{"offset":0.42,"color":"#e0a8c8"},{"offset":0.6,"color":"#b0a8d0"},{"offset":0.82,"color":"#303060"},{"offset":1,"color":"#080820"}]}},"encoding":{"x":{"field":"r","type":"quantitative","axis":null,"scale":{"domain":[0,1],"range":[238,360]}},"x2":{"field":"r2"},"y":{"field":"e","type":"quantitative","axis":null,"scale":{"domain":[-0.755,0.045],"range":[362,282]}},"y2":{"field":"e2"}}},
{"data":{"values":[{"r":0.24,"e":-0.527,"e2":-0.707},{"r":0.4,"e":-0.527,"e2":-0.707},{"r":0.42,"e":-0.527,"e2":-0.707},{"r":0.44,"e":-0.527,"e2":-0.707},{"r":0.46,"e":-0.527,"e2":-0.707},{"r":0.47,"e":-0.527,"e2":-0.707},{"r":0.49,"e":-0.527,"e2":-0.707},{"r":0.59,"e":-0.527,"e2":-0.707}]},"mark":{"type":"rule","color":"#8a8a8a","strokeWidth":0.8},"encoding":{"x":{"field":"r","type":"quantitative","axis":null,"scale":{"domain":[0,1],"range":[238,360]}},"y":{"field":"e","type":"quantitative","axis":null,"scale":{"domain":[-0.755,0.045],"range":[362,282]}},"y2":{"field":"e2"}}},
{"data":{"values":[{"r":0,"r2":1.04,"e":-0.755,"e2":0.045}]},"mark":{"type":"rect","fillOpacity":0,"stroke":"#404040","strokeWidth":1},"encoding":{"x":{"field":"r","type":"quantitative","axis":null,"scale":{"domain":[0,1],"range":[238,360]}},"x2":{"field":"r2"},"y":{"field":"e","type":"quantitative","axis":null,"scale":{"domain":[-0.755,0.045],"range":[362,282]}},"y2":{"field":"e2"}}},
{"data":{"values":[{"r":0,"e":0},{"r":1,"e":0}]},"mark":{"type":"line","color":"#6f9be8","strokeWidth":1.3},"encoding":{"x":{"field":"r","type":"quantitative","axis":null,"scale":{"domain":[0,1],"range":[238,360]}},"y":{"field":"e","type":"quantitative","axis":null,"scale":{"domain":[-0.755,0.045],"range":[362,282]}}}},
{"data":{"values":[{"r":0,"e":0.023},{"r":0.088,"e":0.007},{"r":0.171,"e":-0.043},{"r":0.254,"e":-0.127},{"r":0.337,"e":-0.21},{"r":0.42,"e":-0.293},{"r":0.503,"e":-0.367},{"r":0.586,"e":-0.427},{"r":0.669,"e":-0.47},{"r":0.751,"e":-0.493},{"r":0.807,"e":-0.493},{"r":0.862,"e":-0.47},{"r":0.917,"e":-0.41},{"r":0.959,"e":-0.293},{"r":0.986,"e":-0.127},{"r":1,"e":0}]},"mark":{"type":"line","color":"#3fd44a","strokeWidth":1.5,"interpolate":"monotone"},"encoding":{"x":{"field":"r","type":"quantitative","axis":null,"scale":{"domain":[0,1],"range":[238,360]}},"y":{"field":"e","type":"quantitative","title":"Enrichment score (ES)","scale":{"domain":[-0.755,0.045],"range":[362,282]},"axis":{"orient":"left","offset":-238,"values":[0,-0.1,-0.2,-0.3,-0.4,-0.5],"labelOverlap":false,"labelSeparation":0,"domain":false,"ticks":false,"grid":false,"labelFontSize":10,"labelFontWeight":"bold","labelColor":"black","labelPadding":3,"titleFontSize":10.5,"titleFontWeight":"bold","titleColor":"black","titlePadding":0,"format":"~g"}}}},
{"data":{"values":[{"m":0,"p":100},{"m":34,"p":95.5},{"m":46,"p":90},{"m":62,"p":84},{"m":71,"p":77},{"m":75,"p":71},{"m":84,"p":57},{"m":111,"p":57}]},"mark":{"type":"line","color":"black","strokeWidth":1.3,"interpolate":"step-after"},"encoding":{"x":{"field":"m","type":"quantitative","title":"Months after surgery","scale":{"domain":[0,120],"range":[413,583]},"axis":{"orient":"bottom","offset":-452,"values":[0,40,80,120],"grid":false,"domainColor":"black","domainWidth":1.2,"tickColor":"black","tickWidth":1.2,"tickSize":4,"labelFontSize":9.5,"labelFontWeight":"bold","labelColor":"black","titleFontSize":13.5,"titleFontWeight":"bold","titleColor":"black","titlePadding":3}},"y":{"field":"p","type":"quantitative","title":"Percent Survival","scale":{"domain":[0,100],"range":[598,486]},"axis":{"orient":"left","offset":-413,"values":[0,20,40,60,80,100],"grid":false,"domainColor":"black","domainWidth":1.2,"tickColor":"black","tickWidth":1.2,"tickSize":4,"labelFontSize":9.5,"labelFontWeight":"bold","labelColor":"black","titleFontSize":13.5,"titleFontWeight":"bold","titleColor":"black","titlePadding":4}}}},
{"data":{"values":[{"m":0,"p":100},{"m":3,"p":97},{"m":6,"p":90},{"m":8.5,"p":85},{"m":10,"p":78},{"m":21,"p":73},{"m":42,"p":64},{"m":44,"p":55},{"m":45,"p":46},{"m":57,"p":30.5},{"m":71,"p":15},{"m":88,"p":15}]},"mark":{"type":"line","color":"#e8202c","strokeWidth":1.3,"interpolate":"step-after"},"encoding":{"x":{"field":"m","type":"quantitative","axis":null,"scale":{"domain":[0,120],"range":[413,583]}},"y":{"field":"p","type":"quantitative","axis":null,"scale":{"domain":[0,100],"range":[598,486]}}}},
{"data":{"values":[{"m":8,"p":100},{"m":14,"p":100},{"m":21,"p":100},{"m":24,"p":100},{"m":25,"p":100},{"m":28,"p":100},{"m":30,"p":100},{"m":39,"p":95.5},{"m":44,"p":95.5},{"m":70,"p":84},{"m":92,"p":57},{"m":94,"p":57},{"m":99,"p":57},{"m":108,"p":57},{"m":110,"p":57}]},"mark":{"type":"tick","orient":"vertical","color":"black","size":5,"thickness":1},"encoding":{"x":{"field":"m","type":"quantitative","axis":null,"scale":{"domain":[0,120],"range":[413,583]}},"y":{"field":"p","type":"quantitative","axis":null,"scale":{"domain":[0,100],"range":[598,486]}}}},
{"data":{"values":[{"m":4,"p":97},{"m":6,"p":97},{"m":12,"p":78},{"m":21,"p":78},{"m":26,"p":73},{"m":30,"p":73},{"m":32,"p":73},{"m":34,"p":73},{"m":36,"p":73},{"m":50,"p":46},{"m":53,"p":46},{"m":88,"p":15}]},"mark":{"type":"tick","orient":"vertical","color":"#e8202c","size":5,"thickness":1},"encoding":{"x":{"field":"m","type":"quantitative","axis":null,"scale":{"domain":[0,120],"range":[413,583]}},"y":{"field":"p","type":"quantitative","axis":null,"scale":{"domain":[0,100],"range":[598,486]}}}},
{"data":{"values":[{"x":8,"y":10,"t":"A"},{"x":176,"y":10,"t":"B"},{"x":195,"y":253,"t":"C"},{"x":456,"y":10,"t":"D"},{"x":7,"y":423,"t":"E"},{"x":80,"y":423,"t":"F"},{"x":380,"y":423,"t":"G"},{"x":7,"y":726,"t":"H"},{"x":268,"y":726,"t":"I"},{"x":533,"y":708,"t":"J"}]},"mark":{"type":"text","fontSize":19,"fontWeight":"bold","align":"center","baseline":"middle"},"encoding":{"text":{"field":"t"}}},
{"data":{"values":[{"x":477,"y":40,"t":"vs. shSmyd5 cancer cells"},{"x":113,"y":432,"t":"Normal"},{"x":113,"y":446,"t":"Lung"},{"x":159,"y":432,"t":"Lung adenocarcinoma tumors"},{"x":159,"y":446,"t":"(150, Bhattacharjee_Lung)"},{"x":128,"y":677,"t":"Average expression of"},{"x":128,"y":692,"t":"shSmyd5 cancer cell repressed genes"},{"x":42,"y":742,"t":"Normal"},{"x":42,"y":756,"t":"Colon"},{"x":91,"y":742,"t":"Colon Adenocarcinoma"},{"x":92,"y":756,"t":"Tumors (101, TCGA)"},{"x":59,"y":997,"t":"Average expression of"},{"x":59,"y":1012,"t":"shSmyd5 cancer cell repressed genes"},{"x":292,"y":742,"t":"Normal"},{"x":292,"y":756,"t":"Breast"},{"x":356,"y":742,"t":"Invasive Breast Carcinoma"},{"x":356,"y":756,"t":"Tumors (76, TCGA)"},{"x":331,"y":970,"t":"Average expression of"},{"x":331,"y":985,"t":"shSmyd5 cancer cell repressed genes"}]},"mark":{"type":"text","fontSize":12.3,"fontWeight":"bold","align":"left","baseline":"middle"},"encoding":{"text":{"field":"t"}}},
{"data":{"values":[{"x":103,"y":73,"t":"shSmyd5-CC"},{"x":103,"y":152,"t":"shSmyd5-CC"},{"x":103,"y":195,"t":"ESC"},{"x":103,"y":282,"t":"EB"}]},"mark":{"type":"text","fontSize":11,"fontWeight":"bold","align":"left","baseline":"middle"},"encoding":{"text":{"field":"t"}}},
{"data":{"values":[{"x":46,"y":305,"t":"shLuc-0hr"},{"x":57,"y":305,"t":"shSmyd5-0hr"},{"x":69,"y":305,"t":"shLuc-d14"},{"x":81,"y":305,"t":"shSmyd5-d14"},{"x":93,"y":305,"t":"shSmyd5-CC"}]},"mark":{"type":"text","fontSize":10.5,"fontWeight":"bold","angle":270,"align":"right","baseline":"middle"},"encoding":{"text":{"field":"t"},"color":{"field":"t","legend":null,"scale":{"domain":["shLuc-0hr","shSmyd5-0hr","shLuc-d14","shSmyd5-d14","shSmyd5-CC"],"range":["#000000","#8c1a9c","#000000","#8c1a9c","#8c1a9c"]}}}},
{"data":{"values":[{"x":27,"y":15,"t":"K-means clustering"},{"x":29,"y":28,"t":"(K=15)"},{"x":241,"y":262,"t":"shLuc-EB-d14 vs. shSmyd5-CC"},{"x":241,"y":274,"t":"(>2-fold, p<0.05)"},{"x":421,"y":587,"t":"P = 0.0002"}]},"mark":{"type":"text","fontSize":10,"align":"left","baseline":"middle"},"encoding":{"text":{"field":"t"}}},
{"data":{"values":[{"x":258,"y":50,"t":"shLuc"},{"x":258,"y":65,"t":"EB-d14"},{"x":193,"y":80,"t":"shSmyd5"},{"x":193,"y":94,"t":"EB-d14"},{"x":300,"y":120,"t":"shSmyd5"},{"x":301,"y":135,"t":"ESC"},{"x":373,"y":113,"t":"shLuc"},{"x":373,"y":127,"t":"ESC"},{"x":243,"y":167,"t":"shSmyd5-CC"},{"x":181,"y":183,"t":"PC3"},{"x":409,"y":197,"t":"PC1"},{"x":307,"y":40,"t":"PC2"}]},"mark":{"type":"text","fontSize":11,"align":"left","baseline":"middle"},"encoding":{"text":{"field":"t"}}},
{"data":{"values":[{"x":532,"y":128.5,"t":"Cell differentiation (GO:0030154)"},{"x":532,"y":139.5,"t":"System development (GO:0048731)"},{"x":532,"y":150,"t":"Cell development (GO:0048458)"},{"x":532,"y":160.5,"t":"Gene expression (GO:0010467)"},{"x":532,"y":171,"t":"Neurogenesis (GO:0022008)"},{"x":532,"y":182,"t":"Respiratory Tube development"},{"x":532,"y":192.5,"t":"(GO:0030323)"},{"x":532,"y":203,"t":"Lung development (GO:0030324)"}]},"mark":{"type":"text","fontSize":9.5,"align":"left","baseline":"middle"},"encoding":{"text":{"field":"t"}}},
{"data":{"values":[{"x":486,"y":124,"t":"shLuc-ESC"},{"x":497,"y":124,"t":"shSmyd5-ESC"},{"x":507,"y":124,"t":"shLuc-EB-d14"},{"x":518,"y":124,"t":"shSmyd5-EB-d14"}]},"mark":{"type":"text","fontSize":9,"angle":270,"align":"left","baseline":"middle"},"encoding":{"text":{"field":"t"}}},
{"data":{"values":[{"x":470,"y":178,"t":"GO Terms"}]},"mark":{"type":"text","fontSize":15,"angle":270,"align":"center","baseline":"middle"},"encoding":{"text":{"field":"t"}}},
{"data":{"values":[{"x":92,"y":554,"t":"shSmyd5 cancer cell repressed Genes"},{"x":107,"y":615,"t":"(RNA Expression)"},{"x":21,"y":867,"t":"shSmyd5 cancer cell repressed Genes"},{"x":36,"y":927,"t":"(RNA Expression)"},{"x":272,"y":867,"t":"shSmyd5 cancer cell repressed Genes"},{"x":287,"y":927,"t":"(RNA Expression)"}]},"mark":{"type":"text","fontSize":12.5,"fontWeight":"bold","angle":270,"align":"center","baseline":"middle"},"encoding":{"text":{"field":"t"}}},
{"data":{"values":[{"x":353,"y":652,"t":"Low"},{"x":400,"y":652,"t":"High"},{"x":348,"y":672,"t":"0"},{"x":401,"y":671,"t":"3.45"},{"x":163,"y":1024,"t":"Low"},{"x":211,"y":1024,"t":"High"},{"x":155,"y":1043,"t":"0"},{"x":212,"y":1043,"t":"2.2"},{"x":416,"y":1016,"t":"Low"},{"x":463,"y":1016,"t":"High"},{"x":410,"y":1036,"t":"0"},{"x":468,"y":1036,"t":"2.7"},{"x":47,"y":397,"t":"-2"},{"x":72,"y":397,"t":"log2"},{"x":92,"y":397,"t":"2"},{"x":540,"y":229,"t":"1"},{"x":563,"y":229,"t":"-log10"},{"x":588,"y":229,"t":"2.8"},{"x":567,"y":961,"t":"0"},{"x":584,"y":961,"t":"15"}]},"mark":{"type":"text","fontSize":9,"align":"center","baseline":"middle"},"encoding":{"text":{"field":"t"}}},
{"data":{"values":[{"x":253,"y":372,"t":"ESC"},{"x":345,"y":372,"t":"EB-d14"}]},"mark":{"type":"text","fontSize":10,"fontWeight":"bold","align":"center","baseline":"middle"},"encoding":{"text":{"field":"t"},"color":{"field":"t","legend":null,"scale":{"domain":["ESC","EB-d14"],"range":["#d81030","#1c30d0"]}}}},
{"data":{"values":[{"x":15,"y":577,"t":"shLuc-EB-d14"},{"x":25,"y":577,"t":"shSmyd5 cancer cell"}]},"mark":{"type":"text","fontSize":8.5,"fontWeight":"bold","angle":270,"align":"right","baseline":"middle"},"encoding":{"text":{"field":"t"},"color":{"field":"t","legend":null,"scale":{"domain":["shLuc-EB-d14","shSmyd5 cancer cell"],"range":["#000000","#e8101c"]}}}},
{"data":{"values":[{"x":420,"y":455,"t":"High shSmyd5 cancer cell repressed genes"},{"x":420,"y":468,"t":"Low shSmyd5 cancer cell repressed genes"}]},"mark":{"type":"text","fontSize":12,"align":"left","baseline":"middle"},"encoding":{"text":{"field":"t"},"color":{"field":"t","legend":null,"scale":{"domain":["High shSmyd5 cancer cell repressed genes","Low shSmyd5 cancer cell repressed genes"],"range":["#000000","#e8202c"]}}}},
{"data":{"values":[{"x":553,"y":733,"t":"% LOH"},{"x":566,"y":733,"t":"% High level amp."},{"x":578,"y":733,"t":"% Homozy. deletion"},{"x":590,"y":733,"t":"% Mutation"}]},"mark":{"type":"text","fontSize":8.5,"angle":270,"align":"left","baseline":"middle"},"encoding":{"text":{"field":"t"}}},
{"data":{"values":[{"x":602,"y":739,"t":"Pleura (6)"},{"x":602,"y":748,"t":"Testis (3)"},{"x":602,"y":756,"t":"Oesophagus (22)"},{"x":602,"y":764.5,"t":"Upper aerodigestive tract (21)"},{"x":602,"y":773,"t":"Central nervous system (59)"},{"x":602,"y":781.5,"t":"Autonomic ganglia (37)"},{"x":602,"y":790,"t":"Haematopoietic and lymphoid tissue (127)"},{"x":602,"y":798,"t":"Skin (51)"},{"x":602,"y":807,"t":"Prostate (5)"},{"x":602,"y":815,"t":"Breast (45)"},{"x":602,"y":824,"t":"Stomach (21)"},{"x":602,"y":832,"t":"Thyroid (12)"},{"x":602,"y":840.5,"t":"Kidney (21)"},{"x":602,"y":849,"t":"Ovary (22)"},{"x":602,"y":857.5,"t":"Bone (33)"},{"x":602,"y":866,"t":"Lung (149)"},{"x":602,"y":874.5,"t":"Pancreas (16)"},{"x":602,"y":883,"t":"Liver (9)"},{"x":602,"y":891.5,"t":"Large intestine (39)"},{"x":602,"y":900,"t":"Soft tissue (19)"},{"x":602,"y":908.5,"t":"Biliary tract (6)"},{"x":602,"y":917,"t":"Cervix (12)"},{"x":602,"y":925.5,"t":"Urinary tract (18)"},{"x":602,"y":934,"t":"Adrenal gland (2)"},{"x":602,"y":942.5,"t":"Placenta (2)"},{"x":602,"y":951,"t":"Vulva (3)"}]},"mark":{"type":"text","fontSize":7,"color":"#222222","align":"left","baseline":"middle"},"encoding":{"text":{"field":"t"}}}
]}
